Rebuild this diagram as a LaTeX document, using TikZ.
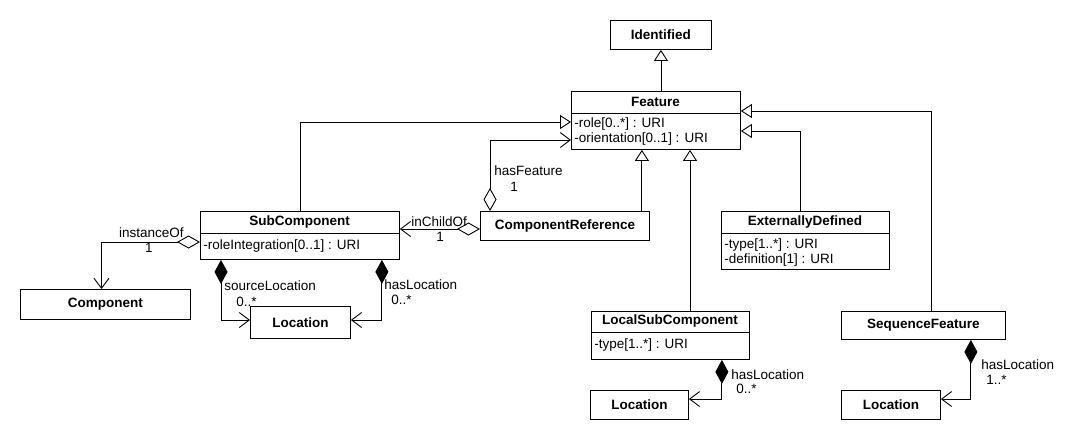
\documentclass[tikz,border=0pt]{standalone}
\usepackage{fontspec}
\setmainfont{Liberation Sans}
\usetikzlibrary{arrows.meta,calc}
\begin{document}
\begin{tikzpicture}[x=1pt,y=-1pt,line width=0.9pt,
  every node/.style={inner sep=0pt,font=\fontsize{13.5}{15}\selectfont},
  box/.style={draw,rectangle,anchor=north west,line width=0.9pt,font=\bfseries\fontsize{13.5}{15}\selectfont},
  title/.style={font=\bfseries\fontsize{13.5}{15}\selectfont},
  attr/.style={anchor=west},
  lbl/.style={anchor=west},
  gen/.style={-{Triangle[open,length=11pt,width=14pt]}},
  aggnav/.style={{Diamond[open,length=23pt,width=13pt]}-{Straight Barb[length=10pt,width=15pt]}},
  compnav/.style={{Diamond[length=24pt,width=13pt]}-{Straight Barb[length=10pt,width=15pt]}}]
\useasboundingbox (0,0) rectangle (1090,440);
\fill[white] (0,0) rectangle (1090,440);

% classes
\node[box,minimum width=101pt,minimum height=29pt] (identified) at (610,20) {Identified};

\node[box,minimum width=169pt,minimum height=58pt] (feature) at (571,91) {};
\draw (571,113) -- (740,113);
\node[title] (featuret) at (655.5,102) {Feature};
\node[attr] (fa1) at (574,124.5) {-role[0..*] : URI};
\node[attr] (fa2) at (574,139.5) {-orientation[0..1] : URI};

\node[box,minimum width=199pt,minimum height=48pt] (subcomp) at (200,211) {};
\draw (200,233) -- (399,233);
\node[title] (subcompt) at (299.5,222) {SubComponent};
\node[attr] (sa1) at (203,246) {-roleIntegration[0..1] : URI};

\node[box,minimum width=170pt,minimum height=30pt] (component) at (20,289) {Component};
\node[box,minimum width=100pt,minimum height=32pt] (locL) at (250,306) {Location};

\node[box,minimum width=169pt,minimum height=29pt] (compref) at (480,211) {ComponentReference};

\node[box,minimum width=168pt,minimum height=58pt] (extdef) at (721,211) {};
\draw (721,233) -- (889,233);
\node[title] (extdeft) at (805,222) {ExternallyDefined};
\node[attr] (ea1) at (724,245) {-type[1..*] : URI};
\node[attr] (ea2) at (724,260) {-definition[1] : URI};

\node[box,minimum width=158pt,minimum height=48pt] (localsub) at (591,311) {};
\draw (591,332) -- (749,332);
\node[title] (localsubt) at (670,321.5) {LocalSubComponent};
\node[attr] (la1) at (594,345) {-type[1..*] : URI};

\node[box,minimum width=98pt,minimum height=29pt] (locM) at (590,390) {Location};

\node[box,minimum width=164pt,minimum height=28pt] (seqfeat) at (841,311) {SequenceFeature};
\node[box,minimum width=99pt,minimum height=29pt] (locR) at (841,390) {Location};

% generalizations
\draw[gen] (identified.south |- feature.north) -- (identified.south);
\draw[gen] (subcomp.north) |- ([yshift=-31pt]feature.north west);
\draw[gen] ([xshift=-8pt]compref.north east) -- ([xshift=-8pt]compref.north east |- feature.south);
\draw[gen] ([xshift=99pt]localsub.north west) -- ([xshift=99pt]localsub.north west |- feature.south);
\draw[gen] ([xshift=79pt]extdef.north west) |- ([yshift=-40pt]feature.north east);
\draw[gen] ([xshift=90pt]seqfeat.north west) |- ([yshift=-20pt]feature.north east);

% associations
\draw[aggnav] ([xshift=10pt]compref.north west) |- ([yshift=-49pt]feature.north west);
\draw[aggnav] ([yshift=-18pt]compref.north west) -- ([yshift=-18pt]compref.north west -| subcomp.east);
\draw[aggnav] ([yshift=-31pt]subcomp.north west) -| ([xshift=-4pt]component.north);
\draw[compnav] ([xshift=21pt]subcomp.south west) |- ([yshift=-14pt]locL.north west);
\draw[compnav] ([xshift=-18pt]subcomp.south east) |- ([yshift=-14pt]locL.north east);
\draw[compnav] ([xshift=-28pt]localsub.south east) |- ([yshift=-9pt]locM.north east);
\draw[compnav] ([xshift=-35pt]seqfeat.south east) |- ([yshift=-9pt]locR.north east);

% labels
\node[lbl] (l1) at (494,171) {hasFeature};
\node (l1m) at (514,187) {1};
\node[lbl] (l2) at (411,222) {inChildOf};
\node (l2m) at (440,237) {1};
\node[anchor=east] (l3) at (184,233) {instanceOf};
\node (l3m) at (149,248) {1};
\node[lbl] (l4) at (224,286) {sourceLocation};
\node[lbl] (l4m) at (236,302) {0..*};
\node[lbl] (l5) at (384,285) {hasLocation};
\node[lbl] (l5m) at (391,300) {0..*};
\node[lbl] (l6) at (731,375) {hasLocation};
\node[lbl] (l6m) at (736,389) {0..*};
\node[lbl] (l7) at (981,365) {hasLocation};
\node[lbl] (l7m) at (986,380) {1..*};
\end{tikzpicture}
\end{document}
